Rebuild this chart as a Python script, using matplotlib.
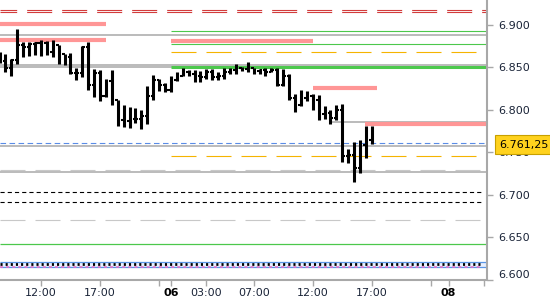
import matplotlib
matplotlib.use("Agg")
import matplotlib.pyplot as plt

# 30-minute OHLC bars
highs = [6.8682, 6.8658, 6.8600, 6.8953, 6.8800, 6.8800, 6.8800, 6.8823, 6.8812, 6.8823,
         6.8764, 6.8658, 6.8670, 6.8494, 6.8753, 6.8800, 6.8482, 6.8470, 6.8364, 6.8470,
         6.8117, 6.8058, 6.8034, 6.8022, 6.7999, 6.8281, 6.8411, 6.8364, 6.8317, 6.8399,
         6.8446, 6.8494, 6.8470, 6.8470, 6.8458, 6.8482, 6.8482, 6.8446, 6.8494, 6.8494,
         6.8541, 6.8505, 6.8564, 6.8494, 6.8482, 6.8494, 6.8494, 6.8494, 6.8482, 6.8423,
         6.8187, 6.8234, 6.8223, 6.8187, 6.8175, 6.8046, 6.7999, 6.8058, 6.8069, 6.7539,
         6.7622, 6.7645, 6.7810, 6.7810]
lows = [6.8552, 6.8446, 6.8399, 6.8541, 6.8623, 6.8635, 6.8647, 6.8635, 6.8647, 6.8623,
        6.8541, 6.8529, 6.8423, 6.8352, 6.8387, 6.8234, 6.8152, 6.8105, 6.8152, 6.8058,
        6.7810, 6.7799, 6.7787, 6.7846, 6.7775, 6.7834, 6.8117, 6.8223, 6.8211, 6.8211,
        6.8340, 6.8399, 6.8399, 6.8329, 6.8329, 6.8364, 6.8352, 6.8352, 6.8364, 6.8423,
        6.8423, 6.8458, 6.8446, 6.8423, 6.8423, 6.8399, 6.8446, 6.8281, 6.8281, 6.8117,
        6.7975, 6.8046, 6.8105, 6.7999, 6.7881, 6.7893, 6.7834, 6.7881, 6.7386, 6.7374,
        6.7151, 6.7257, 6.7433, 6.7598]
closes = [6.8570, 6.8490, 6.8590, 6.8764, 6.8740, 6.8776, 6.8790, 6.8790, 6.8680, 6.8760,
          6.8680, 6.8620, 6.8435, 6.8435, 6.8740, 6.8290, 6.8435, 6.8160, 6.8340, 6.8117,
          6.7880, 6.7870, 6.7890, 6.7890, 6.7930, 6.8160, 6.8350, 6.8290, 6.8230, 6.8350,
          6.8400, 6.8450, 6.8420, 6.8400, 6.8390, 6.8450, 6.8390, 6.8400, 6.8450, 6.8470,
          6.8490, 6.8480, 6.8520, 6.8460, 6.8470, 6.8450, 6.8470, 6.8290, 6.8400, 6.8140,
          6.8060, 6.8140, 6.8160, 6.8117, 6.7950, 6.7960, 6.7900, 6.8000, 6.7460, 6.7470,
          6.7320, 6.7590, 6.7650, 6.76125]
opens = [closes[0] + 0.004] + [min(max(c, lo), hi) for c, lo, hi in zip(closes[:-1], lows[1:], highs[1:])]

last_price = 6.76125
last_label = "6.761,25"

# x tick positions (bar index) and labels
tick_pos = [7, 17, 27, 29, 35, 43, 53, 63, 73, 76, 82]
tick_lab = ["12:00", "17:00", "", "06", "03:00", "07:00", "12:00", "17:00", "", "08", ""]
bold_labels = ["06", "08"]

# level lines
red_dbl = [6.9177, 6.9157]
salmon_prev = [6.9012, 6.8823]
salmon_day = [6.8815]
salmon_short = [6.8261]
salmon_last = [6.7834]
gray_full = [6.8882, 6.8525, 6.8502, 6.7578, 6.7265]
gray_short = [6.7852]
green_thin_day = [6.8929, 6.8776]
green_thick_day = [6.8508]
green_full = [6.6417]
orange_day = [6.8678, 6.7453]
lgray_dash = [6.7286, 6.6700]
black_dash = [6.7029, 6.6912]
band = [6.6146, 6.6205]
black_dot = 6.6181
pink_dash = 6.6153

plt.rcParams["lines.scale_dashes"] = False
plt.rcParams["font.family"] = ["DejaVu Sans"]

fig = plt.figure(figsize=(5.5, 3), dpi=100)
ax = fig.add_axes([0, 0.0667, 0.8855, 0.9333])
x0, x1 = 0.07, 82.5
ax.set_xlim(x0, x1)
ax.set_ylim(6.5995, 6.9294)

day_start = 29
long_dash = (0, (18, 7.2))

ax.hlines(red_dbl, x0, x1, color="#d23c3c", lw=0.8, linestyles=[(6, (18, 7.2))])
ax.hlines(salmon_prev, x0, 18, color="#ff9696", lw=3)
ax.hlines(salmon_day, day_start, 53, color="#ff9696", lw=3)
ax.hlines(salmon_short, 53, 63.9, color="#ff9696", lw=3)
ax.hlines(gray_full, x0, x1, color="#a8a8a8", lw=1.1)
ax.hlines(gray_short, 55.9, x1, color="#a8a8a8", lw=1.1)
ax.hlines(salmon_last, 61.8, x1, color="#ff9696", lw=3)
ax.hlines(green_thin_day, day_start, x1, color="#4cc84c", lw=0.8)
ax.hlines(green_thick_day, day_start, x1, color="#4cc84c", lw=2.2)
ax.hlines(green_full, x0, x1, color="#4cc84c", lw=0.9)
ax.hlines(orange_day, day_start, 80.6, color="#f5b400", lw=0.8, linestyles=[long_dash])
ax.hlines(lgray_dash, x0, x1, color="#c8c8c8", lw=0.8, linestyles=[long_dash])
ax.hlines(black_dash, x0, 81.4, color="black", lw=0.8, linestyles=[(0, (3, 2.2))])
ax.fill_between([x0, x1], band[0], band[1], color="#e8f0ff", lw=0)
ax.hlines(band, x0, x1, color="#5a96e6", lw=0.9)
ax.hlines(black_dot, x0, 81.4, color="black", lw=2, linestyles=[(0, (1.5, 2.2))])
ax.hlines(pink_dash, x0, 81.4, color="#e66ec8", lw=1.1, linestyles=[(0, (2.2, 2.2))])
ax.hlines(last_price, x0, x1, color="#5a8ce6", lw=0.8, linestyles=[(0, (4, 2.5))])

# OHLC bars
idx = list(range(len(highs)))
ax.vlines(idx, lows, highs, color="black", lw=2.2)
ax.hlines(opens, [i - 0.42 for i in idx], idx, color="black", lw=1.5)
ax.hlines(closes, idx, [i + 0.42 for i in idx], color="black", lw=1.5)

# axes styling
for s in ["left", "top"]:
    ax.spines[s].set_visible(False)
for s in ["right", "bottom"]:
    ax.spines[s].set_color("#a8a8a8")
    ax.spines[s].set_linewidth(1.5)

ax.yaxis.tick_right()
yt = [6.60, 6.65, 6.70, 6.75, 6.80, 6.85, 6.90]
ax.set_yticks(yt)
ax.set_yticklabels(["%.3f" % v for v in yt])
ax.tick_params(axis="y", colors="#a8a8a8", labelcolor="#1a2438", length=4, width=1,
               labelsize=8, pad=4)
ax.yaxis.get_ticklabels()[0].set_va("bottom")

ax.set_xticks(tick_pos)
ax.set_xticklabels(tick_lab)
ax.tick_params(axis="x", colors="#a8a8a8", labelcolor="#1a2438", length=4, width=1,
               labelsize=8, pad=2)
for t in ax.get_xticklabels():
    if t.get_text() in bold_labels:
        t.set_fontweight("bold")
        t.set_color("black")

ax.annotate(last_label, xy=(1, last_price), xycoords=("axes fraction", "data"),
            xytext=(9, -1.5), textcoords="offset points", va="center", ha="left",
            fontsize=8, color="black",
            bbox=dict(boxstyle="square,pad=0.42", fc="#ffd21e", ec="#c8a000", lw=0.8))

fig.savefig("out.png", dpi=100)
